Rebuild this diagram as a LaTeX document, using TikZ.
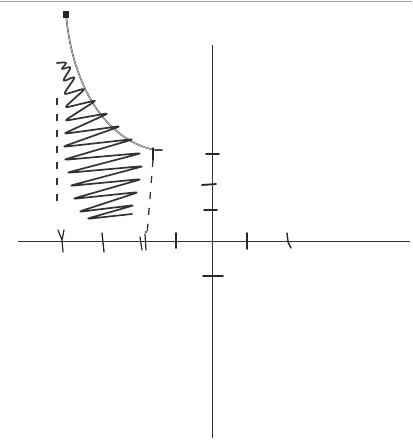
\documentclass[tikz,border=0pt]{standalone}
\usetikzlibrary{calc}
\begin{document}
\begin{tikzpicture}[x=1pt,y=-1pt,
  axis/.style={draw=black!80,line width=0.9pt},
  tickmark/.style={draw=black!85,line width=1.8pt,line cap=round},
  curvestroke/.style={draw=black!70,line width=1.6pt,line cap=round},
  zig/.style={draw=black!80,line width=1.7pt,line join=round,line cap=round,rounded corners=4pt},
  dashline/.style={draw=black!80,line width=1.3pt,dash pattern=on 7pt off 9pt}]
\useasboundingbox (0,0) rectangle (412,441);
\fill[white] (0,0) rectangle (412,441);
\draw[black!35,line width=1pt] (0,2) -- (412,2);
% axes
\coordinate (xl) at (18,241); \coordinate (xr) at (410,241);
\coordinate (yt) at (212,45); \coordinate (yb) at (212,438);
\draw[axis] (xl) -- (xr);
\draw[axis] (yt) -- (yb);
% x ticks
\draw[tickmark,line width=1.2pt] (58,230) -- (62,240) -- (64,230) (62,240) -- (63,252);
\draw[tickmark,line width=1.3pt] (102,233) -- (104,252);
\draw[tickmark,line width=1.2pt] (140,237) -- (142,250) (145,234) -- (146,250);
\fill[black!85] (146,232) circle (1.2pt);
\draw[tickmark] (176,233) -- (176,248);
\draw[tickmark] (247,233) -- (247,249);
\draw[tickmark,line width=1.4pt] (287,233) -- (288,242) -- (291,248);
% y ticks
\draw[tickmark] (206,154) -- (219,154);
\draw[tickmark] (202,185) -- (216,184);
\draw[tickmark,line width=1.4pt] (204,210) -- (217,210);
\draw[tickmark] (203,276) -- (223,276);
% curve
\coordinate (ct) at (66,14); \coordinate (ce) at (155,150);
\draw[curvestroke] (ct) .. controls (72,85) and (105,140) .. (ce) -- (162,150);
\draw[white,line width=0.4pt] (ct) .. controls (72,85) and (105,140) .. (ce);
\fill[black!85] (ct) ++(-3,-3) rectangle ++(6,7);
\draw[tickmark,line width=1.4pt] (ce) ++(-2,-2) -- ++(0,12);
% dashed verticals
\draw[dashline] (57,98) -- (57,210);
\draw[dashline] (153,160) -- (147,235);
% zigzag fill
\draw[zig] (57,63) -- (68,62) -- (60,70) -- (72,66) -- (62,82) -- (76,76)
  -- (63,95) -- (86,88) -- (64,108) -- (97,100) -- (64,121) -- (109,113)
  -- (63,134) -- (121,126) -- (62,147) -- (134,139) -- (63,160) -- (142,153)
  -- (66,173) -- (144,166) -- (69,186) -- (142,179) -- (72,199) -- (139,192)
  -- (78,212) -- (135,205) -- (86,219) -- (132,214);
\end{tikzpicture}
\end{document}
